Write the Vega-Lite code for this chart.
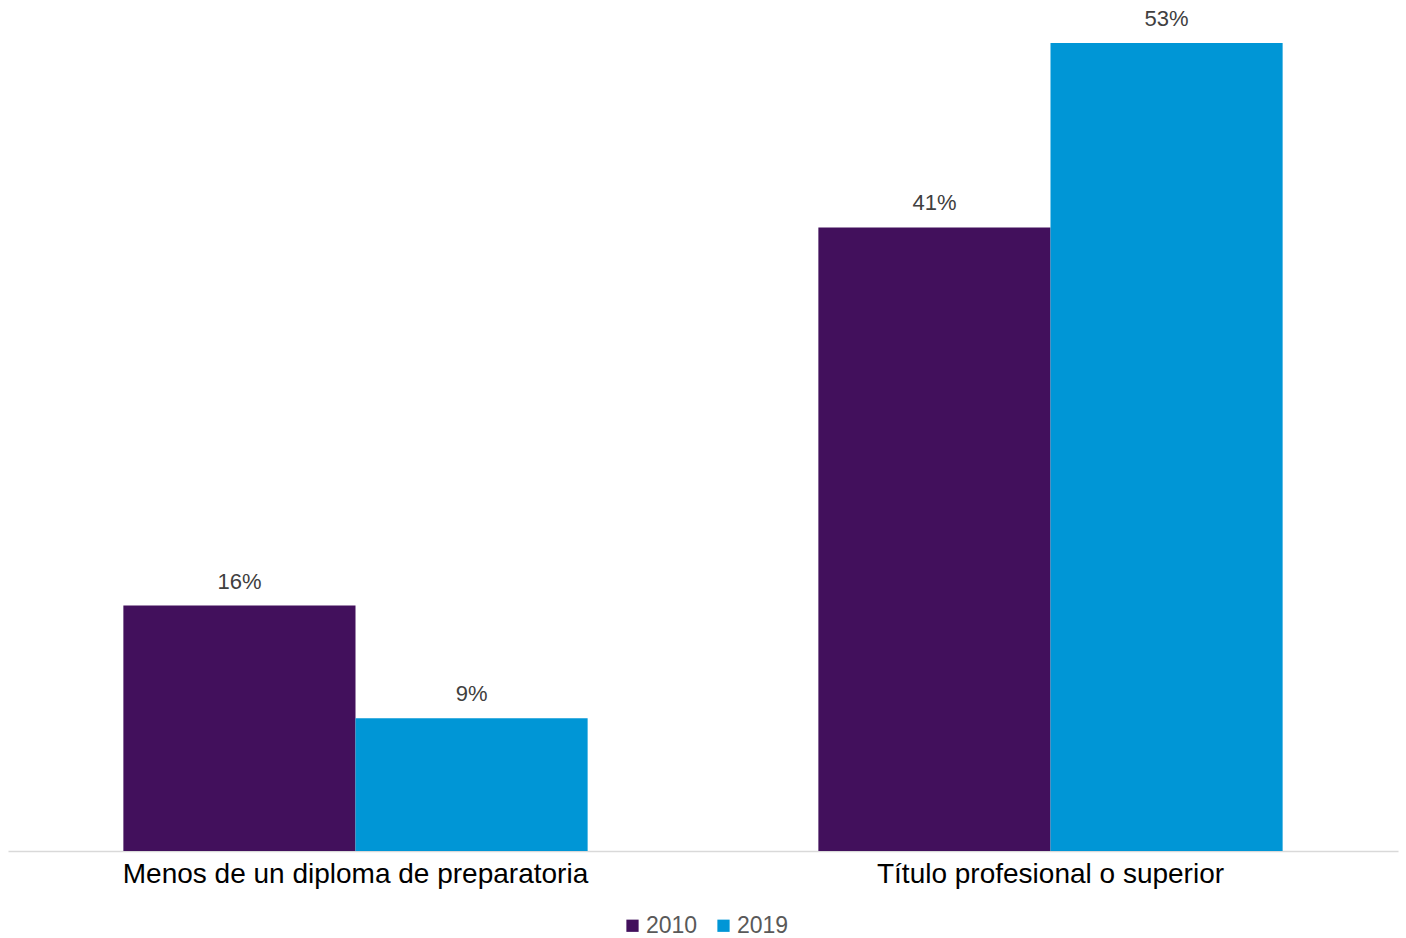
{
  "$schema": "https://vega.github.io/schema/vega-lite/v6.json",
  "width": 1390,
  "height": 851,
  "autosize": {"type": "none"},
  "padding": {"left": 8, "top": 0, "right": 8, "bottom": 87},
  "background": "white",
  "config": {"view": {"stroke": null}, "font": "Liberation Sans"},
  "data": {
    "values": [
      {"category": "Menos de un diploma de preparatoria", "year": "2010", "value": 0.161, "label": "16%"},
      {"category": "Menos de un diploma de preparatoria", "year": "2019", "value": 0.087, "label": "9%"},
      {"category": "Título profesional o superior", "year": "2010", "value": 0.409, "label": "41%"},
      {"category": "Título profesional o superior", "year": "2019", "value": 0.53, "label": "53%"}
    ]
  },
  "encoding": {
    "x": {
      "field": "category",
      "type": "nominal",
      "sort": null,
      "scale": {"paddingInner": 0.332, "paddingOuter": 0.166},
      "axis": {
        "title": null,
        "labelAngle": 0,
        "labelFontSize": 28,
        "labelLimit": 1000,
        "labelColor": "#000000",
        "labelPadding": 9,
        "labelDx": 7,
        "ticks": false,
        "domainColor": "#d9d9d9",
        "domainWidth": 1.5,
        "grid": false
      }
    },
    "xOffset": {"field": "year", "type": "nominal", "scale": {"paddingInner": 0, "paddingOuter": 0}},
    "y": {
      "field": "value",
      "type": "quantitative",
      "scale": {"domain": [0, 0.5582], "nice": false},
      "axis": null
    }
  },
  "layer": [
    {
      "mark": {"type": "bar"},
      "encoding": {
        "color": {
          "field": "year",
          "type": "nominal",
          "scale": {"domain": ["2010", "2019"], "range": ["#42105C", "#0096D6"]},
          "legend": {
            "title": null,
            "orient": "none",
            "direction": "horizontal",
            "legendX": 613,
            "legendY": 914,
            "symbolType": "square",
            "symbolSize": 150,
            "symbolStrokeWidth": 0,
            "labelFontSize": 23,
            "labelColor": "#595959",
            "labelOffset": 2,
            "columnPadding": 14
          }
        }
      }
    },
    {
      "mark": {"type": "text", "baseline": "bottom", "dy": -12, "fontSize": 22, "color": "#404040"},
      "encoding": {"text": {"field": "label"}}
    }
  ]
}
